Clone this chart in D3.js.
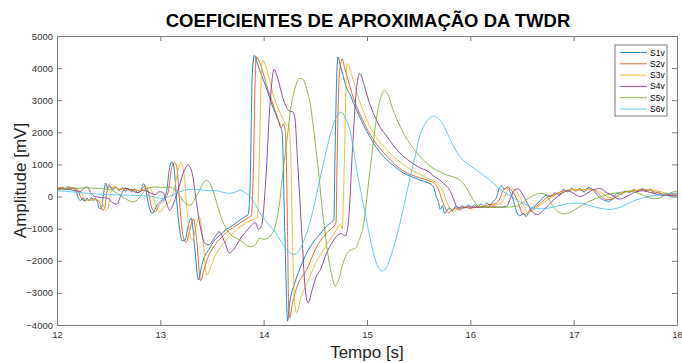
<!DOCTYPE html>
<html>
<head>
<meta charset="utf-8">
<script src="https://d3js.org/d3.v7.min.js"></script>
<style>
  body { margin: 0; background: #fff; }
  svg { display: block; font-family: "Liberation Sans", Arial, sans-serif; }
  .axis path, .axis line { stroke: #7a7a7a; }
  .axis text { fill: #333; font-size: 9.5px; }
</style>
</head>
<body>
<svg id="chart" width="682" height="363"></svg>
<script>
// time axis and amplitude ticks
const xTicks = [12, 13, 14, 15, 16, 17, 18];
const yTicks = [-4000, -3000, -2000, -1000, 0, 1000, 2000, 3000, 4000, 5000];
const seriesNames = ['S1v', 'S2v', 'S3v', 'S4v', 'S5v', 'S6v'];

// [tempo (s), amplitude (mV)]
const s1v = [[12.00,280],[12.03,220],[12.05,300],[12.08,240],[12.10,310],[12.13,250],[12.16,270],[12.19,120],[12.21,-80],[12.23,-120],[12.25,-40],[12.27,-150],[12.29,-60],[12.31,-140],[12.33,-30],[12.35,-130],[12.37,-60],[12.39,-160],[12.41,-380],[12.43,-360],[12.45,60],[12.47,420],[12.49,250],[12.51,320],[12.54,200],[12.57,300],[12.60,180],[12.63,280],[12.66,160],[12.69,250],[12.72,150],[12.75,230],[12.78,120],[12.81,200],[12.84,400],[12.86,200],[12.89,-300],[12.92,-520],[12.94,-450],[12.97,-250],[13.00,-150],[13.03,-80],[13.06,150],[13.09,900],[13.11,1080],[13.13,950],[13.16,-200],[13.19,-1100],[13.21,-1380],[13.24,-1350],[13.27,-900],[13.30,-670],[13.33,-1500],[13.37,-2600],[13.40,-2150],[13.43,-1850],[13.47,-1650],[13.52,-1380],[13.58,-1200],[13.64,-1020],[13.70,-900],[13.76,-760],[13.81,-640],[13.85,-560],[13.87,500],[13.89,3800],[13.91,4400],[13.93,4250],[13.96,3950],[14.00,3600],[14.03,3350],[14.06,3050],[14.09,2780],[14.13,2450],[14.16,2200],[14.18,1950],[14.20,-500],[14.22,-3000],[14.23,-3880],[14.25,-3350],[14.30,-2700],[14.35,-2250],[14.41,-1800],[14.48,-1420],[14.55,-1150],[14.61,-920],[14.68,-700],[14.69,1200],[14.71,4000],[14.72,4350],[14.74,4100],[14.77,3750],[14.80,3400],[14.84,3150],[14.87,2900],[14.92,2550],[14.97,2200],[15.02,1900],[15.06,1680],[15.12,1400],[15.19,1150],[15.27,930],[15.35,740],[15.43,620],[15.51,520],[15.58,440],[15.62,380],[15.65,250],[15.67,0],[15.69,-150],[15.71,-400],[15.73,-280],[15.75,-520],[15.77,-450],[15.80,-350],[15.83,-440],[15.86,-300],[15.89,-390],[15.92,-280],[15.95,-360],[15.98,-260],[16.01,-340],[16.04,-250],[16.07,-330],[16.10,-230],[16.13,-300],[16.16,-200],[16.19,-280],[16.22,-150],[16.25,-50],[16.28,250],[16.30,330],[16.33,230],[16.36,300],[16.39,100],[16.42,-150],[16.45,-500],[16.48,-600],[16.51,-520],[16.54,-620],[16.58,-400],[16.62,-300],[16.66,-180],[16.70,-50],[16.74,50],[16.78,0],[16.82,120],[16.86,60],[16.90,220],[16.94,150],[16.98,260],[17.02,170],[17.06,250],[17.10,140],[17.14,280],[17.18,230],[17.22,80],[17.26,-50],[17.30,-120],[17.34,-150],[17.38,-60],[17.42,100],[17.46,60],[17.50,180],[17.54,120],[17.58,220],[17.62,150],[17.66,250],[17.70,180],[17.74,230],[17.78,100],[17.82,150],[17.86,40],[17.90,100],[17.94,0],[17.98,80],[18.00,40]];

const s2v = [[12.00,250],[12.04,280],[12.08,230],[12.12,290],[12.16,260],[12.20,200],[12.23,-20],[12.26,-120],[12.29,-60],[12.32,-130],[12.35,-70],[12.38,-110],[12.41,-180],[12.44,-420],[12.46,-380],[12.48,100],[12.50,380],[12.53,260],[12.57,280],[12.61,220],[12.65,260],[12.70,200],[12.75,220],[12.80,170],[12.85,330],[12.88,180],[12.92,-380],[12.95,-480],[12.99,-250],[13.04,-100],[13.08,200],[13.11,900],[13.14,1060],[13.16,900],[13.19,-300],[13.22,-1250],[13.25,-1420],[13.28,-1100],[13.32,-700],[13.35,-1300],[13.39,-2620],[13.42,-2300],[13.46,-1900],[13.51,-1600],[13.57,-1350],[13.64,-1120],[13.71,-950],[13.78,-800],[13.84,-680],[13.88,-600],[13.90,800],[13.92,3900],[13.93,4350],[13.95,4250],[13.99,3900],[14.03,3450],[14.09,2880],[14.14,2400],[14.17,2150],[14.19,2260],[14.21,2000],[14.23,-800],[14.24,-3200],[14.25,-3780],[14.28,-3300],[14.33,-2750],[14.42,-2260],[14.50,-1650],[14.61,-1130],[14.70,-820],[14.71,1000],[14.73,3700],[14.76,4290],[14.78,4050],[14.82,3600],[14.87,3050],[14.92,2650],[14.97,2300],[15.06,1780],[15.19,1260],[15.35,800],[15.51,585],[15.61,480],[15.66,400],[15.69,250],[15.72,-50],[15.75,-300],[15.79,-510],[15.82,-420],[15.86,-360],[15.90,-420],[15.95,-320],[16.00,-380],[16.06,-300],[16.12,-320],[16.18,-250],[16.24,-230],[16.28,-100],[16.32,200],[16.35,270],[16.39,220],[16.43,50],[16.47,-250],[16.51,-560],[16.55,-520],[16.60,-400],[16.66,-250],[16.72,-80],[16.78,30],[16.84,100],[16.90,180],[16.96,200],[17.02,220],[17.08,200],[17.14,240],[17.20,200],[17.26,30],[17.32,-100],[17.38,-80],[17.44,60],[17.50,150],[17.56,180],[17.62,200],[17.68,220],[17.74,200],[17.80,130],[17.86,80],[17.92,60],[18.00,60]];

const s3v = [[12.00,230],[12.05,260],[12.10,240],[12.15,270],[12.20,240],[12.24,100],[12.27,-80],[12.31,-120],[12.36,-90],[12.41,-130],[12.44,-200],[12.47,-420],[12.49,-380],[12.52,100],[12.55,320],[12.59,230],[12.65,240],[12.72,200],[12.80,180],[12.88,300],[12.92,150],[12.96,-350],[13.00,-470],[13.04,-300],[13.10,-100],[13.14,300],[13.18,950],[13.20,1060],[13.23,700],[13.26,-500],[13.29,-1250],[13.31,-1360],[13.34,-1000],[13.38,-640],[13.41,-1300],[13.45,-2450],[13.48,-2250],[13.53,-1850],[13.60,-1500],[13.67,-1250],[13.75,-1000],[13.83,-820],[13.90,-700],[13.94,-650],[13.96,1500],[13.98,4000],[13.99,4250],[14.02,4050],[14.06,3600],[14.09,3200],[14.14,2750],[14.19,2400],[14.22,2220],[14.24,2260],[14.26,1500],[14.28,-1500],[14.30,-3300],[14.32,-3620],[14.36,-3150],[14.42,-2690],[14.50,-2100],[14.58,-1650],[14.66,-1250],[14.71,-1020],[14.74,-860],[14.76,-1000],[14.78,1000],[14.80,3800],[14.81,4150],[14.85,3800],[14.91,3150],[14.97,2610],[15.06,2000],[15.19,1470],[15.35,1000],[15.51,690],[15.61,535],[15.68,420],[15.73,200],[15.77,-150],[15.80,-380],[15.83,-470],[15.87,-400],[15.92,-330],[16.00,-340],[16.08,-300],[16.16,-300],[16.24,-270],[16.30,-200],[16.34,50],[16.38,285],[16.42,230],[16.47,50],[16.52,-300],[16.56,-500],[16.61,-420],[16.68,-250],[16.75,-100],[16.82,50],[16.90,150],[16.98,220],[17.06,200],[17.14,220],[17.22,180],[17.30,50],[17.36,-40],[17.42,20],[17.50,130],[17.58,180],[17.66,200],[17.74,210],[17.82,170],[17.90,100],[18.00,70]];

const s4v = [[12.00,250],[12.06,230],[12.12,220],[12.18,180],[12.22,150],[12.26,250],[12.29,300],[12.33,100],[12.37,0],[12.43,-30],[12.49,-50],[12.54,-200],[12.58,-240],[12.62,50],[12.66,260],[12.72,200],[12.78,120],[12.84,200],[12.90,120],[12.95,60],[12.99,150],[13.03,120],[13.06,-200],[13.09,-420],[13.13,-200],[13.18,300],[13.23,800],[13.27,980],[13.31,700],[13.35,-200],[13.39,-1000],[13.43,-1450],[13.47,-1500],[13.52,-1300],[13.57,-1100],[13.62,-1400],[13.67,-1750],[13.71,-1650],[13.77,-1330],[13.84,-1050],[13.92,-815],[13.95,-1020],[13.98,-900],[14.02,500],[14.06,2800],[14.10,3960],[14.13,3750],[14.19,3030],[14.25,2660],[14.28,2640],[14.30,2500],[14.33,1000],[14.37,-1200],[14.40,-2800],[14.43,-3310],[14.47,-2900],[14.51,-2480],[14.55,-2270],[14.61,-1750],[14.66,-1450],[14.71,-1230],[14.75,-1150],[14.79,-1230],[14.82,-800],[14.86,1500],[14.90,3400],[14.93,3835],[14.97,3500],[15.01,3050],[15.06,2610],[15.12,2200],[15.19,1885],[15.27,1530],[15.35,1260],[15.43,1060],[15.51,900],[15.61,740],[15.64,650],[15.70,530],[15.74,410],[15.80,200],[15.84,-100],[15.87,-320],[15.91,-360],[15.98,-320],[16.06,-340],[16.14,-330],[16.22,-320],[16.30,-330],[16.35,-300],[16.39,-50],[16.43,220],[16.46,240],[16.50,100],[16.55,-200],[16.60,-480],[16.65,-560],[16.70,-450],[16.76,-250],[16.82,-60],[16.88,80],[16.94,180],[17.00,100],[17.06,0],[17.12,80],[17.18,200],[17.26,250],[17.32,120],[17.38,30],[17.44,-80],[17.50,-20],[17.58,120],[17.66,180],[17.74,130],[17.82,60],[17.90,30],[18.00,20]];

const s5v = [[12.00,220],[12.10,240],[12.20,260],[12.30,270],[12.40,250],[12.50,220],[12.56,150],[12.62,20],[12.68,-100],[12.74,-170],[12.79,-60],[12.84,150],[12.88,260],[12.95,300],[13.02,280],[13.09,300],[13.14,200],[13.19,0],[13.24,-200],[13.29,-270],[13.33,-100],[13.38,200],[13.42,450],[13.45,510],[13.48,400],[13.52,80],[13.58,-570],[13.63,-950],[13.68,-1180],[13.74,-1300],[13.80,-1420],[13.85,-1540],[13.88,-1560],[13.92,-1500],[13.96,-1300],[14.00,-1330],[14.04,-1300],[14.07,-1200],[14.11,-950],[14.15,-300],[14.19,850],[14.23,1900],[14.26,2700],[14.31,3450],[14.35,3680],[14.38,3650],[14.42,3300],[14.45,2900],[14.48,2200],[14.51,1365],[14.54,500],[14.56,-190],[14.59,-1000],[14.61,-1540],[14.64,-2150],[14.67,-2600],[14.69,-2790],[14.72,-2650],[14.77,-2060],[14.81,-1750],[14.85,-1650],[14.89,-1600],[14.93,-1300],[14.97,-815],[15.00,0],[15.03,850],[15.06,1650],[15.09,2400],[15.13,3050],[15.17,3300],[15.20,3200],[15.25,2715],[15.30,2330],[15.35,1990],[15.43,1580],[15.51,1260],[15.61,950],[15.67,825],[15.75,700],[15.84,600],[15.90,515],[15.96,285],[16.03,-110],[16.08,-300],[16.15,-340],[16.25,-340],[16.35,-330],[16.45,-300],[16.52,-150],[16.60,20],[16.68,100],[16.73,60],[16.78,-200],[16.84,-450],[16.90,-540],[16.96,-500],[17.04,-350],[17.15,-155],[17.25,-20],[17.35,80],[17.45,130],[17.55,160],[17.65,80],[17.73,-40],[17.80,-70],[17.88,30],[17.95,130],[18.00,170]];

const s6v = [[12.00,180],[12.10,160],[12.20,130],[12.30,100],[12.40,80],[12.50,60],[12.60,50],[12.70,40],[12.80,30],[12.90,20],[12.97,-40],[13.03,-60],[13.10,20],[13.19,150],[13.29,225],[13.40,210],[13.48,180],[13.55,180],[13.61,130],[13.67,100],[13.72,130],[13.77,200],[13.82,120],[13.87,0],[13.92,-250],[13.96,-500],[14.02,-760],[14.09,-1020],[14.16,-1350],[14.22,-1645],[14.29,-1800],[14.34,-1700],[14.38,-1440],[14.43,-1000],[14.48,-400],[14.53,350],[14.58,1050],[14.63,1750],[14.67,2200],[14.71,2520],[14.75,2630],[14.79,2450],[14.84,1990],[14.87,1450],[14.90,850],[14.95,0],[15.00,-815],[15.05,-1600],[15.09,-2060],[15.12,-2250],[15.15,-2320],[15.19,-2200],[15.22,-1955],[15.27,-1450],[15.32,-815],[15.37,-100],[15.42,640],[15.47,1300],[15.51,1885],[15.56,2250],[15.61,2455],[15.64,2510],[15.68,2450],[15.74,2225],[15.79,1880],[15.84,1550],[15.88,1330],[15.93,1135],[16.00,960],[16.06,825],[16.12,680],[16.19,515],[16.25,330],[16.32,150],[16.40,0],[16.48,-160],[16.55,-270],[16.61,-370],[16.70,-380],[16.80,-330],[16.90,-250],[17.00,-200],[17.10,-230],[17.20,-320],[17.28,-380],[17.35,-400],[17.45,-330],[17.55,-180],[17.61,-100],[17.70,-20],[17.80,40],[17.90,80],[18.00,110]];

const allSeries = [s1v, s2v, s3v, s4v, s5v, s6v];
const colors = ['#0072BD', '#D95319', '#EDB120', '#7E2F8E', '#77AC30', '#4DBEEE'];

const svg = d3.select('#chart');
const plotLeft = 57, plotRight = 677, plotTop = 36, plotBottom = 325;

const x = d3.scaleLinear().domain([12, 18]).range([plotLeft, plotRight]);
const y = d3.scaleLinear().domain([-4000, 5000]).range([plotBottom, plotTop]);

svg.append('defs').append('clipPath').attr('id', 'plotClip')
  .append('rect')
  .attr('x', plotLeft).attr('y', plotTop)
  .attr('width', plotRight - plotLeft).attr('height', plotBottom - plotTop);

// lines
const line = d3.line()
  .x(d => x(d[0]))
  .y(d => y(d[1]))
  .curve(d3.curveMonotoneX);

const plot = svg.append('g').attr('clip-path', 'url(#plotClip)');
allSeries.forEach((s, i) => {
  plot.append('path')
    .datum(s)
    .attr('fill', 'none')
    .attr('stroke', colors[i])
    .attr('stroke-width', 1)
    .attr('stroke-opacity', 0.85)
    .attr('stroke-linejoin', 'round')
    .attr('d', line);
});

// axes, ticks pointing inward on all four sides
const tick = 5;
svg.append('g').attr('class', 'axis')
  .attr('transform', `translate(0,${plotBottom})`)
  .call(d3.axisBottom(x).tickValues(xTicks).tickSizeInner(-tick).tickSizeOuter(0).tickPadding(6).tickFormat(d3.format('d')));
svg.append('g').attr('class', 'axis')
  .attr('transform', `translate(0,${plotTop})`)
  .call(d3.axisTop(x).tickValues(xTicks).tickSizeInner(-tick).tickSizeOuter(0).tickFormat(''));
svg.append('g').attr('class', 'axis')
  .attr('transform', `translate(${plotLeft},0)`)
  .call(d3.axisLeft(y).tickValues(yTicks).tickSizeInner(-tick).tickSizeOuter(0).tickPadding(4).tickFormat(d3.format('d')));
svg.append('g').attr('class', 'axis')
  .attr('transform', `translate(${plotRight},0)`)
  .call(d3.axisRight(y).tickValues(yTicks).tickSizeInner(-tick).tickSizeOuter(0).tickFormat(''));

// title and labels
svg.append('text')
  .attr('x', 368).attr('y', 27)
  .attr('text-anchor', 'middle')
  .attr('font-weight', 'bold').attr('font-size', 18.5)
  .attr('fill', '#000')
  .text('COEFICIENTES DE APROXIMAÇÃO DA TWDR');

svg.append('text')
  .attr('x', (plotLeft + plotRight) / 2).attr('y', 358)
  .attr('text-anchor', 'middle')
  .attr('font-size', 17).attr('fill', '#262626')
  .text('Tempo [s]');

svg.append('text')
  .attr('transform', `translate(26,${(plotTop + plotBottom) / 2}) rotate(-90)`)
  .attr('text-anchor', 'middle')
  .attr('font-size', 17).attr('fill', '#262626')
  .text('Amplitude [mV]');

// legend
const lg = svg.append('g').attr('transform', 'translate(615,45)');
lg.append('rect')
  .attr('width', 52).attr('height', 71)
  .attr('fill', '#fff').attr('stroke', '#7a7a7a').attr('stroke-width', 1);
seriesNames.forEach((name, i) => {
  const yy = 7.5 + i * 11.3;
  lg.append('line')
    .attr('x1', 5).attr('x2', 32)
    .attr('y1', yy).attr('y2', yy)
    .attr('stroke', colors[i]).attr('stroke-width', 1)
    .attr('stroke-opacity', 0.85);
  lg.append('text')
    .attr('x', 35).attr('y', yy + 3)
    .attr('font-size', 8.5).attr('fill', '#000')
    .text(name);
});
</script>
</body>
</html>
